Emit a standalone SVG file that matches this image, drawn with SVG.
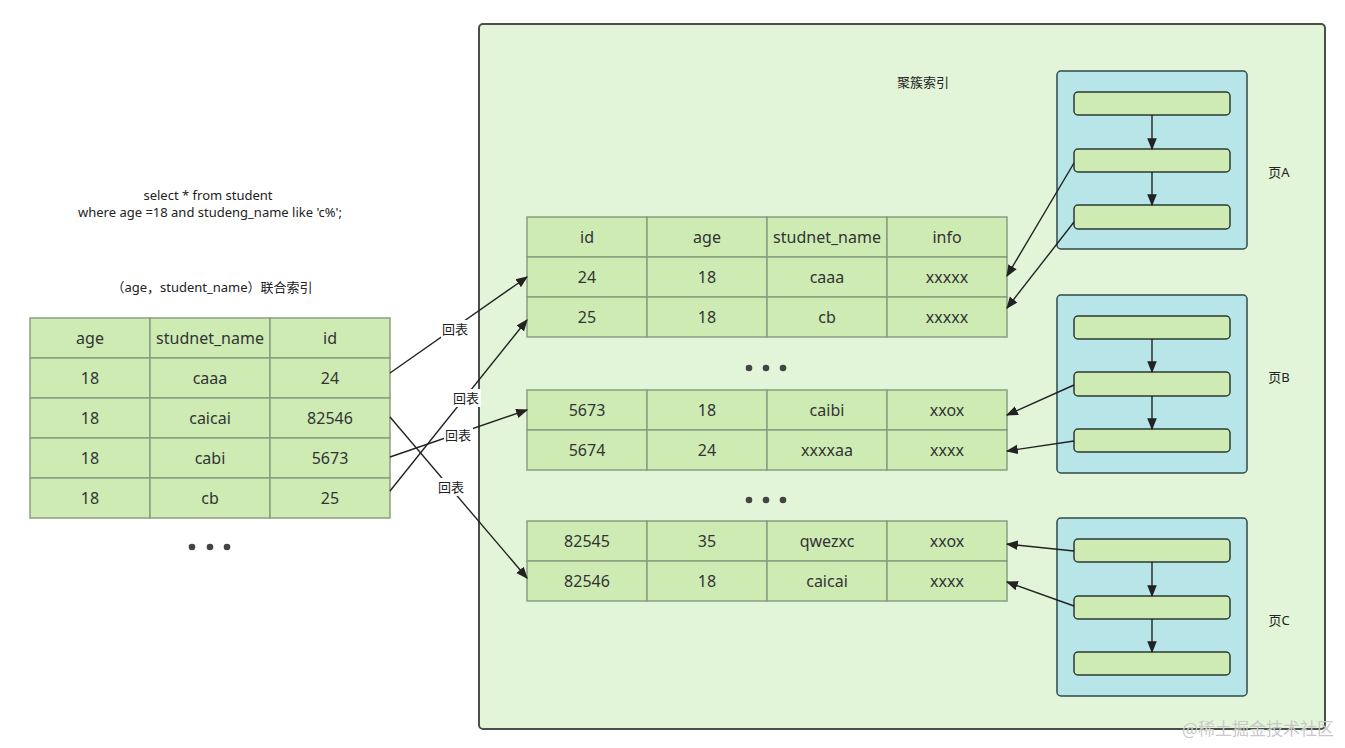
<svg xmlns="http://www.w3.org/2000/svg" width="1345" height="748" viewBox="0 0 1345 748">
<style>
.cell{fill:#cdebb3;stroke:#8a9e80;stroke-width:1.5}
.t{font-family:"Noto Sans","Noto Sans CJK SC",sans-serif;font-size:16px;fill:#333;text-anchor:middle;dominant-baseline:central}
.s{font-family:"Noto Sans","Noto Sans CJK SC",sans-serif;font-size:13px;fill:#222;text-anchor:middle;dominant-baseline:central}
.page{fill:#b8e6e8;stroke:#2e4a4a;stroke-width:1.5}
.bar{fill:#cdebb3;stroke:#2e3a36;stroke-width:1.5}
.c{stroke:#222;stroke-width:1.4;fill:none}
.lbl{fill:#fff}
.dot{fill:#444}
</style>
<defs>
<marker id="ah2" viewBox="0 0 10 10" refX="9" refY="5" markerWidth="12" markerHeight="12" orient="auto" markerUnits="userSpaceOnUse">
<path d="M0,1 L10,5 L0,9 Z" fill="#222"/>
</marker>
</defs>
<rect width="1345" height="748" fill="#fff"/>

<g id="container">
<rect x="479" y="24" width="846" height="705" rx="4" fill="#e3f5d8" stroke="#4a4f4a" stroke-width="2"/>
<text class="s" x="923" y="82">聚簇索引</text>
</g>

<g id="query">
<text class="s" x="208" y="195">select * from student</text>
<text class="s" x="210" y="212">where age =18 and studeng_name like 'c%';</text>
</g>
<g id="index-title"><text class="s" x="212" y="287">（age，student_name）联合索引</text></g>

<g id="left-table">
<rect class="cell" x="30" y="318" width="120" height="40"/><rect class="cell" x="150" y="318" width="120" height="40"/><rect class="cell" x="270" y="318" width="120" height="40"/>
<rect class="cell" x="30" y="358" width="120" height="40"/><rect class="cell" x="150" y="358" width="120" height="40"/><rect class="cell" x="270" y="358" width="120" height="40"/>
<rect class="cell" x="30" y="398" width="120" height="40"/><rect class="cell" x="150" y="398" width="120" height="40"/><rect class="cell" x="270" y="398" width="120" height="40"/>
<rect class="cell" x="30" y="438" width="120" height="40"/><rect class="cell" x="150" y="438" width="120" height="40"/><rect class="cell" x="270" y="438" width="120" height="40"/>
<rect class="cell" x="30" y="478" width="120" height="40"/><rect class="cell" x="150" y="478" width="120" height="40"/><rect class="cell" x="270" y="478" width="120" height="40"/>
<text class="t" x="90" y="338">age</text><text class="t" x="210" y="338">studnet_name</text><text class="t" x="330" y="338">id</text>
<text class="t" x="90" y="378">18</text><text class="t" x="210" y="378">caaa</text><text class="t" x="330" y="378">24</text>
<text class="t" x="90" y="418">18</text><text class="t" x="210" y="418">caicai</text><text class="t" x="330" y="418">82546</text>
<text class="t" x="90" y="458">18</text><text class="t" x="210" y="458">cabi</text><text class="t" x="330" y="458">5673</text>
<text class="t" x="90" y="498">18</text><text class="t" x="210" y="498">cb</text><text class="t" x="330" y="498">25</text>
</g>
<g id="left-dots"><circle class="dot" cx="192" cy="547" r="3.3"/><circle class="dot" cx="210" cy="547" r="3.3"/><circle class="dot" cx="227" cy="547" r="3.3"/></g>

<g id="table-1">
<rect class="cell" x="527" y="217" width="120" height="40"/><rect class="cell" x="647" y="217" width="120" height="40"/><rect class="cell" x="767" y="217" width="120" height="40"/><rect class="cell" x="887" y="217" width="120" height="40"/>
<rect class="cell" x="527" y="257" width="120" height="40"/><rect class="cell" x="647" y="257" width="120" height="40"/><rect class="cell" x="767" y="257" width="120" height="40"/><rect class="cell" x="887" y="257" width="120" height="40"/>
<rect class="cell" x="527" y="297" width="120" height="40"/><rect class="cell" x="647" y="297" width="120" height="40"/><rect class="cell" x="767" y="297" width="120" height="40"/><rect class="cell" x="887" y="297" width="120" height="40"/>
<text class="t" x="587" y="237">id</text><text class="t" x="707" y="237">age</text><text class="t" x="827" y="237">studnet_name</text><text class="t" x="947" y="237">info</text>
<text class="t" x="587" y="277">24</text><text class="t" x="707" y="277">18</text><text class="t" x="827" y="277">caaa</text><text class="t" x="947" y="277">xxxxx</text>
<text class="t" x="587" y="317">25</text><text class="t" x="707" y="317">18</text><text class="t" x="827" y="317">cb</text><text class="t" x="947" y="317">xxxxx</text>
</g>
<g id="dots-1"><circle class="dot" cx="749" cy="368" r="3.3"/><circle class="dot" cx="766" cy="368" r="3.3"/><circle class="dot" cx="783" cy="368" r="3.3"/></g>

<g id="table-2">
<rect class="cell" x="527" y="390" width="120" height="40"/><rect class="cell" x="647" y="390" width="120" height="40"/><rect class="cell" x="767" y="390" width="120" height="40"/><rect class="cell" x="887" y="390" width="120" height="40"/>
<rect class="cell" x="527" y="430" width="120" height="40"/><rect class="cell" x="647" y="430" width="120" height="40"/><rect class="cell" x="767" y="430" width="120" height="40"/><rect class="cell" x="887" y="430" width="120" height="40"/>
<text class="t" x="587" y="410">5673</text><text class="t" x="707" y="410">18</text><text class="t" x="827" y="410">caibi</text><text class="t" x="947" y="410">xxox</text>
<text class="t" x="587" y="450">5674</text><text class="t" x="707" y="450">24</text><text class="t" x="827" y="450">xxxxaa</text><text class="t" x="947" y="450">xxxx</text>
</g>
<g id="dots-2"><circle class="dot" cx="749" cy="500" r="3.3"/><circle class="dot" cx="766" cy="500" r="3.3"/><circle class="dot" cx="783" cy="500" r="3.3"/></g>

<g id="table-3">
<rect class="cell" x="527" y="521" width="120" height="40"/><rect class="cell" x="647" y="521" width="120" height="40"/><rect class="cell" x="767" y="521" width="120" height="40"/><rect class="cell" x="887" y="521" width="120" height="40"/>
<rect class="cell" x="527" y="561" width="120" height="40"/><rect class="cell" x="647" y="561" width="120" height="40"/><rect class="cell" x="767" y="561" width="120" height="40"/><rect class="cell" x="887" y="561" width="120" height="40"/>
<text class="t" x="587" y="541">82545</text><text class="t" x="707" y="541">35</text><text class="t" x="827" y="541">qwezxc</text><text class="t" x="947" y="541">xxox</text>
<text class="t" x="587" y="581">82546</text><text class="t" x="707" y="581">18</text><text class="t" x="827" y="581">caicai</text><text class="t" x="947" y="581">xxxx</text>
</g>

<g id="page-A">
<rect class="page" x="1057" y="71" width="190" height="178" rx="4"/>
<rect class="bar" x="1074" y="92" width="156" height="23" rx="4"/>
<rect class="bar" x="1074" y="149" width="156" height="23" rx="4"/>
<rect class="bar" x="1074" y="205" width="156" height="24" rx="4"/>
<text class="s" x="1279" y="172">页A</text>
</g>
<g id="page-B">
<rect class="page" x="1057" y="295" width="190" height="178" rx="4"/>
<rect class="bar" x="1074" y="316" width="156" height="23" rx="4"/>
<rect class="bar" x="1074" y="372" width="156" height="24" rx="4"/>
<rect class="bar" x="1074" y="429" width="156" height="23" rx="4"/>
<text class="s" x="1279" y="377">页B</text>
</g>
<g id="page-C">
<rect class="page" x="1057" y="518" width="190" height="178" rx="4"/>
<rect class="bar" x="1074" y="539" width="156" height="23" rx="4"/>
<rect class="bar" x="1074" y="596" width="156" height="23" rx="4"/>
<rect class="bar" x="1074" y="652" width="156" height="23" rx="4"/>
<text class="s" x="1279" y="620">页C</text>
</g>

<g id="connectors">
<path class="c" marker-end="url(#ah2)" d="M1152,115 L1152,149"/>
<path class="c" marker-end="url(#ah2)" d="M1152,172 L1152,205"/>
<path class="c" marker-end="url(#ah2)" d="M1152,339 L1152,372"/>
<path class="c" marker-end="url(#ah2)" d="M1152,396 L1152,429"/>
<path class="c" marker-end="url(#ah2)" d="M1152,562 L1152,596"/>
<path class="c" marker-end="url(#ah2)" d="M1152,619 L1152,652"/>

<path class="c" marker-end="url(#ah2)" d="M1074,163 L1007,276"/>
<path class="c" marker-end="url(#ah2)" d="M1074,222 L1007,308"/>
<path class="c" marker-end="url(#ah2)" d="M1074,385 L1007,415"/>
<path class="c" marker-end="url(#ah2)" d="M1074,441 L1007,451"/>
<path class="c" marker-end="url(#ah2)" d="M1074,551 L1007,544"/>
<path class="c" marker-end="url(#ah2)" d="M1074,606 L1007,582"/>

<path class="c" marker-end="url(#ah2)" d="M390,373 L527,277"/>
<path class="c" marker-end="url(#ah2)" d="M390,491 L527,320"/>
<path class="c" marker-end="url(#ah2)" d="M390,457 L527,410"/>
<path class="c" marker-end="url(#ah2)" d="M390,417 L527,578"/>

<rect class="lbl" x="441" y="320" width="29" height="18"/><text class="s" x="455" y="329">回表</text>
<rect class="lbl" x="452" y="389" width="29" height="18"/><text class="s" x="466" y="398">回表</text>
<rect class="lbl" x="444" y="426" width="29" height="18"/><text class="s" x="458" y="435">回表</text>
<rect class="lbl" x="437" y="478" width="29" height="18"/><text class="s" x="451" y="487">回表</text>
</g>

<g id="watermark"><text x="1258" y="735" font-family="'Noto Sans CJK SC',sans-serif" font-size="17" fill="#c8c8c8" text-anchor="middle">@稀土掘金技术社区</text></g>
</svg>
